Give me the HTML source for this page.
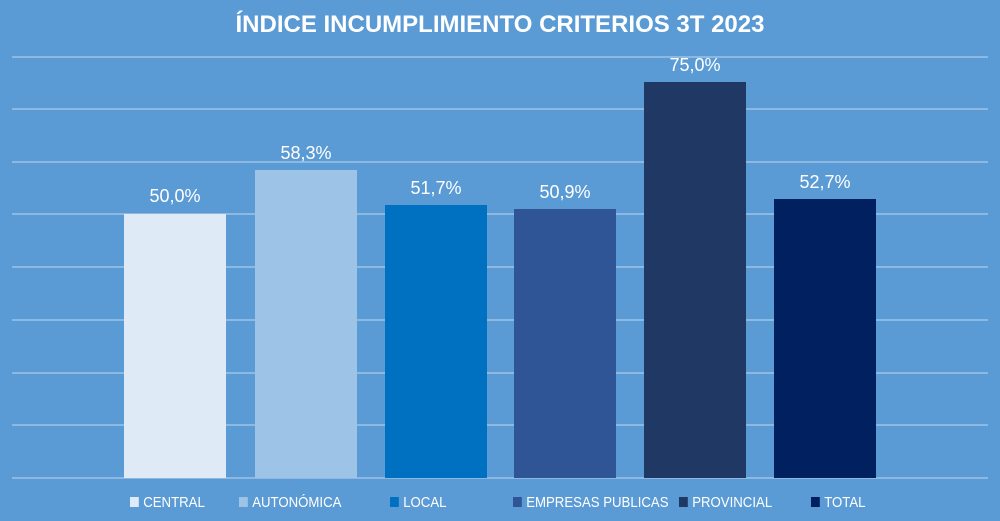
<!DOCTYPE html>
<html><head><meta charset="utf-8"><style>
html,body{margin:0;padding:0}
body{width:1000px;height:521px;background:#5b9bd5;position:relative;overflow:hidden;font-family:"Liberation Sans",sans-serif}
.t{position:absolute;left:0;width:1000px;top:11px;text-align:center;color:#fff;font-weight:bold;font-size:24px;letter-spacing:0px}
.g{position:absolute;left:12px;width:976px;height:2px;background:#8cb8e2}
.b{position:absolute;width:102px;bottom:43px}
.v{position:absolute;width:102px;text-align:center;color:#fff;font-size:18px}
.l{position:absolute;top:494px;color:#fff;font-size:15px;transform:scaleX(0.88);transform-origin:left;white-space:nowrap}
.l i{display:inline-block;width:10px;height:10px;margin-right:5px;vertical-align:0px}
</style></head><body>
<div class="t">ÍNDICE INCUMPLIMIENTO CRITERIOS 3T 2023</div>
<div class="g" style="top:56px"></div><div class="g" style="top:108px"></div><div class="g" style="top:161px"></div><div class="g" style="top:213px"></div><div class="g" style="top:266px"></div><div class="g" style="top:319px"></div><div class="g" style="top:372px"></div><div class="g" style="top:424px"></div><div class="g" style="top:477px"></div>
<div class="b" style="left:124px;top:214px;background:#deebf7"></div>
<div class="b" style="left:255px;top:170px;background:#9dc3e6"></div>
<div class="b" style="left:385px;top:205px;background:#0070c0"></div>
<div class="b" style="left:514px;top:209px;background:#2f5597"></div>
<div class="b" style="left:644px;top:82px;background:#203864"></div>
<div class="b" style="left:774px;top:199px;background:#002060"></div>
<div class="v" style="left:124px;top:186px">50,0%</div>
<div class="v" style="left:255px;top:143px">58,3%</div>
<div class="v" style="left:385px;top:178px">51,7%</div>
<div class="v" style="left:514px;top:182px">50,9%</div>
<div class="v" style="left:644px;top:55px">75,0%</div>
<div class="v" style="left:774px;top:172px">52,7%</div>
<div class="l" style="left:130px"><i style="background:#deebf7"></i>CENTRAL</div>
<div class="l" style="left:239px"><i style="background:#9dc3e6"></i>AUTONÓMICA</div>
<div class="l" style="left:390px"><i style="background:#0070c0"></i>LOCAL</div>
<div class="l" style="left:513px"><i style="background:#2f5597"></i>EMPRESAS PUBLICAS</div>
<div class="l" style="left:679px"><i style="background:#203864"></i>PROVINCIAL</div>
<div class="l" style="left:811px"><i style="background:#002060"></i>TOTAL</div>
</body></html>
